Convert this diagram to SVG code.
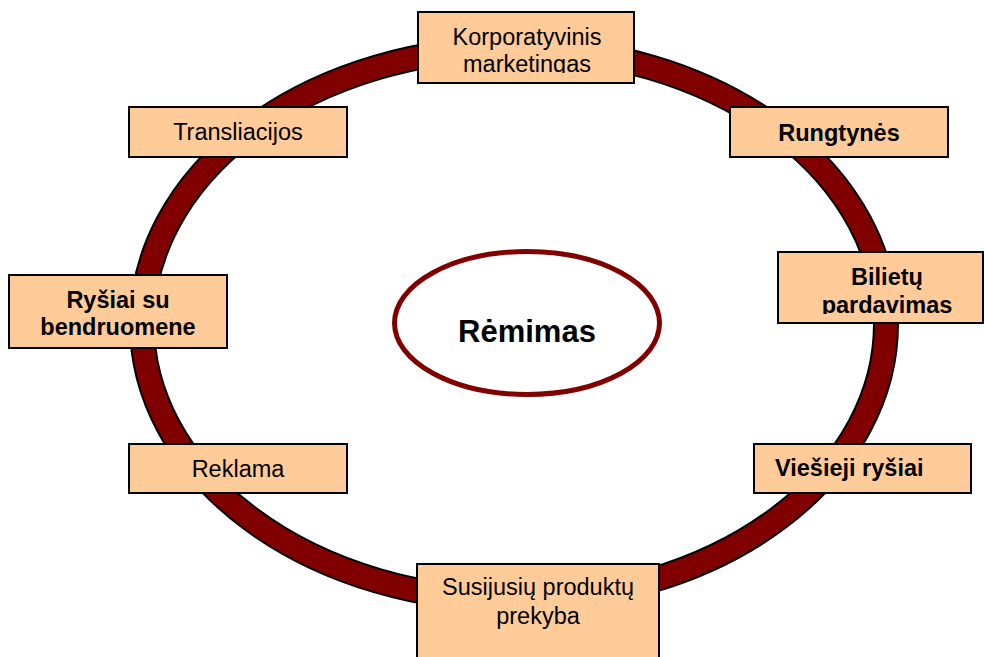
<svg xmlns="http://www.w3.org/2000/svg" width="984" height="657" viewBox="0 0 984 657">
  <style>
    .box { fill: #FFCC99; stroke: #000; stroke-width: 2; }
    .lbl { font-family: "Liberation Sans", Arial, sans-serif; font-size: 23.5px; fill: #000; text-anchor: middle; }
    .b { font-weight: bold; }
  </style>
  <defs>
    <clipPath id="clipKorp"><rect x="418" y="12" width="216" height="61"/></clipPath>
    <clipPath id="clipBil"><rect x="778" y="252" width="206" height="62"/></clipPath>
  </defs>

  <rect width="984" height="657" fill="#fff"/>

  <!-- cycle ring -->
  <g id="connectors">
    <ellipse cx="514" cy="324" rx="372" ry="276" fill="none" stroke="#000" stroke-width="26"/>
    <ellipse cx="514" cy="324" rx="372" ry="276" fill="none" stroke="#800000" stroke-width="22"/>
  </g>

  <!-- centre -->
  <g id="remimas">
    <ellipse cx="527" cy="323" rx="132.5" ry="71.5" fill="#fff" stroke="#800000" stroke-width="5"/>
    <text class="lbl b" x="527" y="342" style="font-size:31px">Rėmimas</text>
  </g>

  <g id="korporatyvinis">
    <rect class="box" x="418" y="12" width="216" height="71"/>
    <g clip-path="url(#clipKorp)">
      <text class="lbl" x="527" y="45">Korporatyvinis</text>
      <text class="lbl" x="527" y="72">marketingas</text>
    </g>
  </g>

  <g id="rungtynes">
    <rect class="box" x="730" y="107" width="218" height="50"/>
    <text class="lbl b" x="839" y="141">Rungtynės</text>
  </g>

  <g id="bilietu">
    <rect class="box" x="778" y="252" width="205" height="71"/>
    <g clip-path="url(#clipBil)">
      <text class="lbl b" x="887" y="285">Bilietų</text>
      <text class="lbl b" x="887" y="313">pardavimas</text>
    </g>
  </g>

  <g id="viesieji">
    <rect class="box" x="754" y="444" width="217" height="49"/>
    <text class="lbl b" x="775" y="476" style="text-anchor:start">Viešieji ryšiai</text>
  </g>

  <g id="susijusiu">
    <rect class="box" x="417" y="564" width="242" height="100"/>
    <text class="lbl" x="538" y="595">Susijusių produktų</text>
    <text class="lbl" x="538" y="624">prekyba</text>
  </g>

  <g id="reklama">
    <rect class="box" x="129" y="444" width="218" height="49"/>
    <text class="lbl" x="238" y="477">Reklama</text>
  </g>

  <g id="rysiai">
    <rect class="box" x="9" y="275" width="218" height="73"/>
    <text class="lbl b" x="118" y="308">Ryšiai su</text>
    <text class="lbl b" x="118" y="335">bendruomene</text>
  </g>

  <g id="transliacijos">
    <rect class="box" x="129" y="107" width="218" height="50"/>
    <text class="lbl" x="238" y="140">Transliacijos</text>
  </g>
</svg>
